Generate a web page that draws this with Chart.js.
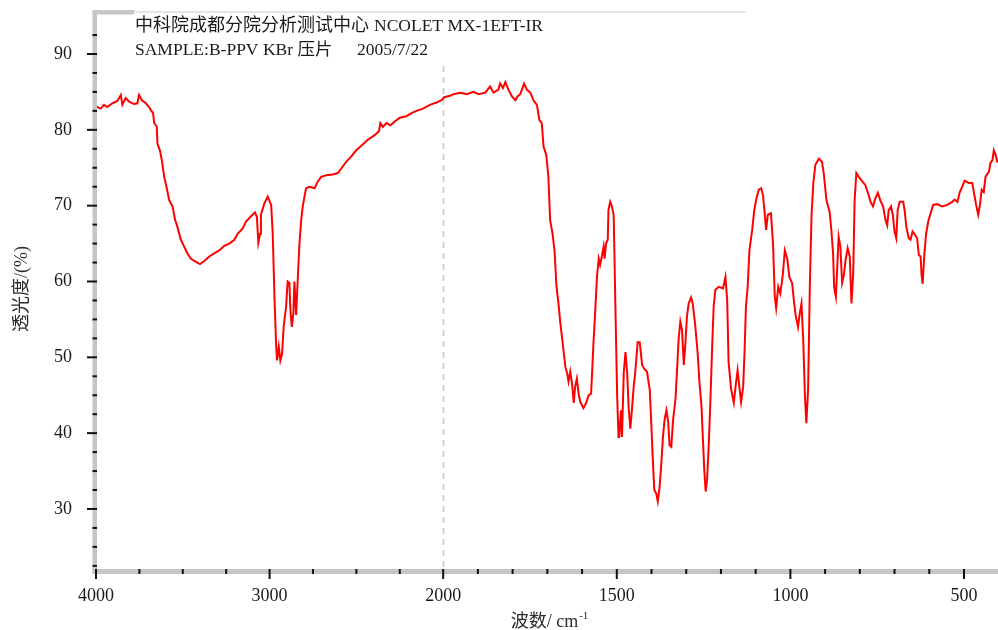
<!DOCTYPE html>
<html><head><meta charset="utf-8">
<script src="https://cdn.jsdelivr.net/npm/chart.js@4/dist/chart.umd.min.js"></script>
<style>html,body{margin:0;padding:0;background:#fff;overflow:hidden}#wrap{width:998px;height:630px}</style>
</head><body><div id="wrap"><canvas id="c" width="998" height="630"></canvas></div>
<script>
// ---- data (wavenumber cm-1, transmittance %) ----
const wavenumbers = [
4000,3973,3954,3935,3906,3877,3857,3848,3829,3809,
3781,3762,3752,3736,3713,3694,3684,3671,3665,3650,
3646,3632,3621,3607,3594,3578,3559,3544,3531,3511,
3492,3473,3453,3424,3401,3376,3348,3319,3290,3261,
3232,3203,3184,3155,3136,3107,3084,3073,3065,3055,
3050,3030,3011,2991,2982,2972,2962,2957,2947,2938,
2928,2919,2905,2896,2886,2880,2872,2863,2857,2847,
2838,2828,2818,2809,2799,2790,2770,2741,2722,2703,
2674,2636,2607,2587,2558,2529,2501,2462,2434,2395,
2370,2362,2347,2327,2304,2279,2250,2212,2183,2154,
2116,2077,2039,2010,1997,1980,1970,1961,1951,1932,
1913,1898,1879,1865,1855,1841,1836,1828,1821,1812,
1802,1792,1786,1778,1767,1759,1749,1740,1730,1723,
1716,1711,1703,1697,1692,1685,1679,1674,1668,1663,
1658,1653,1648,1643,1639,1634,1629,1624,1620,1615,
1610,1605,1596,1588,1581,1574,1571,1567,1562,1557,
1552,1548,1543,1538,1535,1531,1526,1524,1519,1514,
1509,1507,1504,1499,1495,1493,1488,1485,1480,1475,
1470,1466,1461,1456,1451,1447,1440,1434,1427,1421,
1413,1405,1401,1397,1392,1386,1382,1377,1372,1367,
1362,1357,1352,1348,1343,1338,1331,1326,1322,1317,
1312,1307,1303,1298,1293,1286,1281,1274,1267,1262,
1256,1252,1248,1244,1240,1235,1230,1225,1221,1216,
1206,1194,1187,1182,1178,1171,1163,1158,1152,1147,
1142,1136,1132,1128,1123,1118,1110,1104,1098,1091,
1084,1079,1074,1070,1065,1056,1050,1045,1041,1035,
1029,1022,1016,1009,1003,995,990,985,978,973,
968,963,958,954,949,944,939,934,928,918,
909,904,896,887,882,877,874,869,865,861,
856,851,846,841,835,829,824,819,815,810,
803,793,784,776,769,762,755,748,741,733,
726,721,717,710,705,700,695,691,685,675,
671,666,659,654,648,640,635,630,625,622,
619,614,609,603,596,589,577,563,548,534,
527,519,512,505,498,486,476,470,465,459,
454,449,443,438,428,424,418,414,409,404,
402];
const transmittance = [
83.1,82.8,83.3,83.0,83.5,83.8,84.6,83.3,84.2,83.7,
83.4,83.5,84.6,83.9,83.5,83.0,82.6,82.2,80.9,80.4,
78.2,77.3,76.0,73.8,72.5,70.7,69.9,68.1,67.2,65.5,
64.6,63.7,63.0,62.6,62.3,62.7,63.3,63.7,64.1,64.7,
65.0,65.5,66.3,67.0,67.9,68.6,69.1,68.5,65.1,66.3,
68.8,70.3,71.2,70.1,66.3,58.0,51.4,49.6,51.4,49.6,
50.5,54.0,56.7,60.0,59.8,56.2,54.0,55.8,60.0,55.6,
60.2,65.0,68.1,69.9,71.2,72.3,72.5,72.3,73.2,73.8,
74.0,74.1,74.3,74.9,75.8,76.5,77.3,78.1,78.7,79.3,
79.8,80.9,80.4,80.9,80.6,81.1,81.6,81.8,82.2,82.5,
82.8,83.3,83.6,83.9,84.3,84.5,84.7,84.8,84.9,84.7,
85.0,84.7,84.9,85.7,84.9,85.3,86.1,85.5,86.3,85.3,
84.4,83.9,84.4,84.7,86.1,85.3,84.9,83.9,83.3,81.3,
80.9,77.8,76.7,73.8,68.1,66.3,63.9,59.5,57.1,54.7,
52.7,50.7,48.7,47.9,46.8,48.1,46.6,44.0,46.1,47.2,
45.2,44.1,43.3,44.0,45.0,45.2,48.1,52.0,56.2,60.6,
63.0,62.2,63.3,64.6,63.0,65.0,65.5,69.4,70.5,69.9,
68.8,64.1,56.7,45.0,39.5,39.5,43.0,39.5,47.9,50.7,
47.9,43.5,40.6,43.3,46.3,47.9,52.0,52.0,49.0,48.5,
48.1,45.7,41.7,37.3,32.5,32.0,31.0,32.7,35.8,39.5,
41.9,43.0,41.5,38.4,38.2,41.7,44.4,48.7,52.3,54.7,
53.6,49.0,51.4,55.3,57.1,57.9,57.0,54.2,50.5,46.8,
43.5,39.3,35.1,32.3,33.8,38.6,44.8,51.8,56.7,58.9,
59.3,59.1,60.6,57.5,49.4,45.9,44.0,46.1,48.3,46.1,
44.1,46.1,50.7,56.7,59.3,64.1,66.8,69.4,70.9,72.1,
72.3,71.4,69.0,66.8,68.8,69.0,65.0,58.0,56.5,59.3,
58.4,60.8,64.1,63.0,60.6,59.8,57.5,55.6,54.0,55.8,
57.1,52.3,44.8,41.3,45.7,59.3,68.8,72.9,75.4,76.2,
75.8,74.3,70.7,69.2,66.8,63.7,59.3,58.0,61.9,65.9,
64.6,59.8,60.8,62.8,64.4,63.3,57.1,61.1,70.7,74.3,
73.8,73.2,72.7,71.6,70.5,69.9,71.0,71.7,70.7,69.9,
68.1,67.4,69.4,69.9,68.8,66.6,65.7,69.4,70.5,70.5,
69.4,67.2,65.7,65.5,66.6,66.1,65.7,63.5,63.3,60.8,
59.7,63.7,66.3,67.9,69.0,70.1,70.2,69.9,70.1,70.5,
70.8,70.5,71.8,72.5,73.3,73.0,73.0,71.4,70.1,68.8,
70.1,72.1,71.8,73.8,74.5,75.6,76.0,77.3,76.7,75.8,
75.8];

// ---- ticks and texts ----
const xMajorTicks = [4000, 3000, 2000, 1500, 1000, 500];
const xMinorTicks = [3750, 3500, 3250, 2750, 2500, 2250, 1900, 1800, 1700, 1600, 1400, 1300, 1200, 1100, 900, 800, 700, 600];
const yMajorTicks = [30, 40, 50, 60, 70, 80, 90];
const yMinorTicks = [22.5, 25, 27.5, 32.5, 35, 37.5, 42.5, 45, 47.5, 52.5, 55, 57.5, 62.5, 65, 67.5, 72.5, 75, 77.5, 82.5, 85, 87.5, 92.5];
const titleLine1a = '中科院成都分院分析测试中心';
const titleLine1b = 'NCOLET MX-1EFT-IR';
const titleLine2a = 'SAMPLE:B-PPV KBr 压片';
const titleLine2b = '2005/7/22';
const xTitleMain = '波数/ cm';
const xTitleSup = '-1';
const yTitle = '透光度/(%)';
const X_START = 4000, X_END = 402, Y_MIN = 21.82, Y_MAX = 95.54;

// two-scale IR axis: 4000-2000 compressed (1000/unit), 2000-400 expanded (500/unit)
function toU(w) { return w >= 2000 ? (4000 - w) / 1000 : 2 + (2000 - w) / 500; }
function fromU(u) { return u <= 2 ? 4000 - u * 1000 : 2000 - (u - 2) * 500; }

const points = wavenumbers.map((w, i) => ({ x: toU(w), y: transmittance[i] }));

const SERIF = '"Liberation Serif", "Noto Sans CJK SC", serif';
const AXIS_GREY = '#c6c6c6';

const decor = {
  id: 'decor',
  beforeDraw(chart) {
    const c = chart.ctx;
    c.save(); c.fillStyle = '#ffffff'; c.fillRect(0, 0, chart.width, chart.height); c.restore();
  },
  beforeDatasetsDraw(chart) {
    const c = chart.ctx, xs = chart.scales.x, a = chart.chartArea;
    const px = Math.round(xs.getPixelForValue(toU(2000))) + 0.5;
    c.save();
    c.strokeStyle = '#c8c8c8'; c.lineWidth = 1.5; c.setLineDash([6, 5]);
    c.beginPath(); c.moveTo(px, 66); c.lineTo(px, a.bottom); c.stroke();
    c.restore();
  },
  afterDatasetsDraw(chart) {
    const c = chart.ctx, xs = chart.scales.x, ys = chart.scales.y, a = chart.chartArea;
    c.save();
    c.fillStyle = AXIS_GREY;
    c.fillRect(92.5, 10, 4.5, a.bottom + 3 - 10);
    c.fillRect(92.5, 10, 42, 4.5);
    c.fillRect(92.5, a.bottom - 2, chart.width - 92.5, 5);
    c.fillStyle = '#e4e4e4';
    c.fillRect(134.5, 11, 611, 2);
    c.fillStyle = '#111';
    yMajorTicks.forEach(v => { const y = ys.getPixelForValue(v); c.fillRect(87, y - 1, 10, 2); });
    yMinorTicks.forEach(v => { const y = ys.getPixelForValue(v); c.fillRect(92.5, y - 1, 4.5, 2); });
    xMajorTicks.forEach(w => { const x = xs.getPixelForValue(toU(w)); c.fillRect(x - 1, a.bottom - 2, 2, 10); });
    xMinorTicks.forEach(w => { const x = xs.getPixelForValue(toU(w)); c.fillRect(x - 1, a.bottom - 2, 2, 5); });
    c.restore();
  },
  afterDraw(chart) {
    const c = chart.ctx;
    c.save();
    c.fillStyle = '#1a1a1a';
    c.textBaseline = 'alphabetic'; c.textAlign = 'left';
    c.font = '18px ' + SERIF;
    c.fillText(titleLine1a, 135, 31);
    const w1 = c.measureText(titleLine1a).width;
    c.font = '17.5px ' + SERIF;
    c.fillText(titleLine1b, 135 + w1 + 5, 31);
    c.fillText(titleLine2a, 135, 55);
    c.fillText(titleLine2b, 357, 55);
    c.fillStyle = '#2a2a2a';
    c.font = '18px ' + SERIF;
    const wMain = c.measureText(xTitleMain).width;
    c.font = '11px ' + SERIF;
    const wSup = c.measureText(xTitleSup).width;
    const x0 = 549 - (wMain + wSup) / 2;
    c.font = '18px ' + SERIF;
    c.fillText(xTitleMain, x0, 627);
    c.font = '11px ' + SERIF;
    c.fillText(xTitleSup, x0 + wMain + 1, 619);
    c.font = '18px ' + SERIF;
    c.translate(27, 289); c.rotate(-Math.PI / 2);
    c.textAlign = 'center';
    c.fillText(yTitle, 0, 0);
    c.restore();
  }
};

new Chart(document.getElementById('c'), {
  type: 'scatter',
  data: { datasets: [{
    data: points, showLine: true, borderColor: '#ff0000', borderWidth: 2,
    pointRadius: 0, fill: false, tension: 0
  }]},
  options: {
    responsive: false, animation: false, devicePixelRatio: 1,
    layout: { padding: { top: 12, left: 0, right: 0, bottom: 0 } },
    plugins: { legend: { display: false }, tooltip: { enabled: false } },
    scales: {
      x: {
        type: 'linear', min: toU(X_START), max: toU(X_END),
        grid: { display: false }, border: { display: false },
        afterBuildTicks: s => { s.ticks = xMajorTicks.map(w => ({ value: toU(w) })); },
        afterFit: s => { s.height = 59; s.paddingLeft = 0; s.paddingRight = 0; s.paddingTop = 0; s.paddingBottom = 0; },
        ticks: {
          autoSkip: false, maxRotation: 0, padding: 6, color: '#1a1a1a',
          font: { family: SERIF, size: 18 },
          callback: v => String(Math.round(fromU(v)))
        }
      },
      y: {
        type: 'linear', min: Y_MIN, max: Y_MAX,
        grid: { display: false }, border: { display: false },
        afterBuildTicks: s => { s.ticks = yMajorTicks.map(v => ({ value: v })); },
        afterFit: s => { s.width = 96; s.paddingTop = 0; s.paddingBottom = 0; s.paddingLeft = 0; s.paddingRight = 0; },
        ticks: { padding: 16, color: '#1a1a1a', font: { family: SERIF, size: 18 } }
      }
    }
  },
  plugins: [decor]
});
</script></body></html>
